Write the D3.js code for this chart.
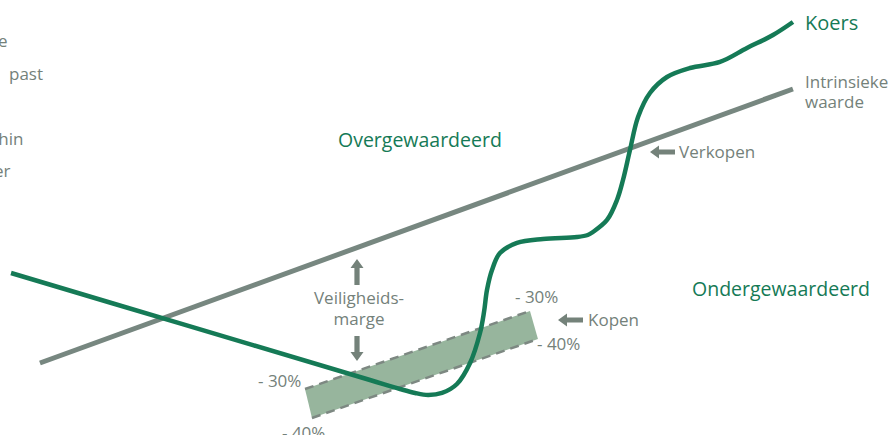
<!DOCTYPE html>
<html>
<head>
<meta charset="utf-8">
<script src="https://cdn.jsdelivr.net/npm/d3@7"></script>
<style>
  html, body { margin: 0; padding: 0; background: #ffffff; overflow: hidden; }
  svg { display: block; }
  text { font-family: "Open Sans", sans-serif; font-weight: 500; }
</style>
</head>
<body>
<div id="chart"></div>
<script>
// ---- data (time 0..100, value 0..100, schematic units) ----
const koersT = [1.23, 20.0, 41.29, 44.64, 46.32, 47.77, 49.33, 51.00, 52.46, 53.57, 54.02, 54.35, 54.91, 55.80, 57.70, 60.60, 64.40, 65.60, 66.18, 67.75, 68.86, 69.53, 70.31, 71.21, 72.54, 74.44, 77.01, 80.36, 83.37, 86.27, 88.50];
const koersV = [37.24, 25.71, 12.64, 10.57, 9.66, 9.20, 9.66, 11.72, 16.55, 23.45, 28.28, 33.33, 37.93, 41.84, 44.14, 45.06, 45.52, 45.98, 46.67, 49.43, 54.02, 58.62, 65.52, 73.10, 78.62, 82.30, 84.37, 85.75, 88.97, 91.95, 94.94];

const intrinsiekT = [4.46, 88.50];
const intrinsiekV = [16.55, 79.54];

const marge30T = [34.04, 59.15];
const marge30V = [10.57, 28.51];
const marge40T = [34.82, 60.04];
const marge40V = [3.91, 22.07];

const marginLabels = ["- 30%", "- 40%", "- 30%", "- 40%"];
const zoneLabels = ["Overgewaardeerd", "Ondergewaardeerd"];
const seriesLabels = ["Koers", "Intrinsieke", "waarde"];
const actionLabels = ["Verkopen", "Kopen"];
const safetyLabels = ["Veiligheids-", "marge"];
const cutText = ["e", "past", "hin", "er"];

// ---- setup ----
const W = 896, H = 435;
const GREEN = "#157a56", GREY = "#778780", TEXTGREY = "#74817a", FILL = "#97b59d";

const svg = d3.select("#chart").append("svg").attr("width", W).attr("height", H);
const x = d3.scaleLinear().domain([0, 100]).range([0, W]);
const y = d3.scaleLinear().domain([0, 100]).range([H, 0]);

const toPts = (T, V) => T.map((t, i) => [t, V[i]]);
const line = d3.line().x(d => x(d[0])).y(d => y(d[1]));

// band fill
const bandPts = [...toPts(marge30T, marge30V), ...toPts(marge40T, marge40V).reverse()];
svg.append("path")
  .attr("d", line(bandPts) + "Z")
  .attr("fill", FILL);

// dashed margin lines
[[marge30T, marge30V], [marge40T, marge40V]].forEach(([T, V]) => {
  svg.append("path")
    .attr("d", line(toPts(T, V)))
    .attr("fill", "none")
    .attr("stroke", "#7d8882")
    .attr("stroke-width", 2.5)
    .attr("stroke-dasharray", "9,6");
});

// intrinsic value line
svg.append("path")
  .attr("d", line(toPts(intrinsiekT, intrinsiekV)))
  .attr("fill", "none")
  .attr("stroke", GREY)
  .attr("stroke-width", 5);

// price line
svg.append("path")
  .attr("d", line.curve(d3.curveCatmullRom.alpha(0.5))(toPts(koersT, koersV)))
  .attr("fill", "none")
  .attr("stroke", GREEN)
  .attr("stroke-width", 4.5);

// ---- text helpers ----
function label(txt, px, py, opts = {}) {
  return svg.append("text")
    .attr("x", px).attr("y", py)
    .attr("font-size", opts.size || 17)
    .attr("fill", opts.color || TEXTGREY)
    .attr("text-anchor", opts.anchor || "start")
    .text(txt);
}

// arrow: tip at (tx,ty), direction dx,dy unit, length L
function arrow(tx, ty, dx, dy, L = 25) {
  const hl = 9, hw = 6.5, sw = 2.6;
  const px = -dy, py = dx; // perpendicular
  const bx = tx - dx * hl, by = ty - dy * hl;
  const ex = tx - dx * L, ey = ty - dy * L;
  const pts = [
    [tx, ty],
    [bx + px * hw, by + py * hw],
    [bx + px * sw, by + py * sw],
    [ex + px * sw, ey + py * sw],
    [ex - px * sw, ey - py * sw],
    [bx - px * sw, by - py * sw],
    [bx - px * hw, by - py * hw]
  ];
  svg.append("path").attr("d", d3.line()(pts) + "Z").attr("fill", "#74827a");
}

// cut-off paragraph text on the left
label(cutText[0], 7.5, 47, { anchor: "end" });
label(cutText[1], 43, 80, { anchor: "end" });
label(cutText[2], 23.5, 145, { anchor: "end" });
label(cutText[3], 10.5, 177, { anchor: "end" });

// zone labels
label(zoneLabels[0], 338, 147, { size: 19.5, color: GREEN });
label(zoneLabels[1], 692, 296, { size: 19.5, color: GREEN });

// series labels
label(seriesLabels[0], 805, 30, { size: 20, color: GREEN });
label(seriesLabels[1], 805, 88);
label(seriesLabels[2], 805, 108);

// actions
arrow(650, 152, -1, 0, 25);
label(actionLabels[0], 679, 158);
arrow(558, 320, -1, 0, 25);
label(actionLabels[1], 588, 326);

// safety margin
arrow(357, 259, 0, -1, 26);
arrow(357, 361, 0, 1, 25);
label(safetyLabels[0], 359, 304, { anchor: "middle" });
label(safetyLabels[1], 359, 325, { anchor: "middle" });

// percentage labels
label(marginLabels[0], 258, 387);
label(marginLabels[1], 282, 439);
label(marginLabels[2], 515, 303);
label(marginLabels[3], 537, 350);
</script>
</body>
</html>
